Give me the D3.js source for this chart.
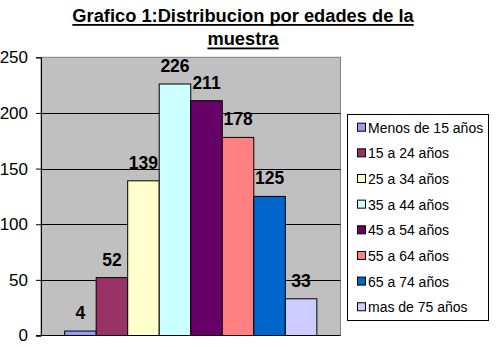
<!DOCTYPE html>
<html>
<head>
<meta charset="utf-8">
<script src="https://cdn.jsdelivr.net/npm/d3@7"></script>
<style>
  html, body { margin: 0; padding: 0; background: #fff; }
  svg { display: block; font-family: Arial, "Liberation Sans", sans-serif; }
</style>
</head>
<body>
<svg id="chart" width="496" height="347"></svg>
<script>
// Age groups of the sample and how many people fall in each
const categories = ["Menos de 15 años", "15 a 24 años", "25 a 34 años", "35 a 44 años",
                    "45 a 54 años", "55 a 64 años", "65 a 74 años", "mas de 75 años"];
const counts = [4, 52, 139, 226, 211, 178, 125, 33];
const colors = ["#9999FF", "#993366", "#FFFFCC", "#CCFFFF", "#660066", "#FF8080", "#0066CC", "#CCCCFF"];
const yTicks = [0, 50, 100, 150, 200, 250];
const titleLines = ["Grafico 1:Distribucion por edades de la", "muestra"];

const svg = d3.select("#chart");
const plot = { left: 41, top: 57.3, right: 340.5, bottom: 335.5 };

const y = d3.scaleLinear().domain([0, 250]).range([plot.bottom, plot.top]);
const x = d3.scaleBand().domain(categories)
  .range([plot.left, plot.right]).paddingInner(0).paddingOuter(0.75);

// Title, bold and underlined, two centred lines
const title = svg.append("g").attr("font-weight", "bold").attr("font-size", 18.3)
  .attr("text-anchor", "middle");
titleLines.forEach((t, i) => {
  const txt = title.append("text").attr("x", 243).attr("y", 21.5 + i * 23.5).text(t);
  const w = txt.node().getComputedTextLength();
  title.append("rect").attr("x", 243 - w / 2).attr("y", 24 + i * 23.5)
    .attr("width", w).attr("height", 1.8).attr("fill", "#000");
});

// Plot background
svg.append("rect")
  .attr("x", plot.left).attr("y", plot.top)
  .attr("width", plot.right - plot.left).attr("height", plot.bottom - plot.top)
  .attr("fill", "#C0C0C0").attr("stroke", "#808080").attr("stroke-width", 1);

// Horizontal gridlines
svg.append("g").selectAll("line")
  .data(yTicks.filter(d => d > 0 && d < 250))
  .join("line")
  .attr("x1", plot.left).attr("x2", plot.right)
  .attr("y1", d => Math.round(y(d)) + 0.5).attr("y2", d => Math.round(y(d)) + 0.5)
  .attr("stroke", "#000").attr("stroke-width", 1);

// Bars
svg.append("g").selectAll("rect")
  .data(counts)
  .join("rect")
  .attr("x", (d, i) => x(categories[i]))
  .attr("y", d => y(d))
  .attr("width", x.bandwidth())
  .attr("height", d => y(0) - y(d))
  .attr("fill", (d, i) => colors[i])
  .attr("stroke", "#000").attr("stroke-width", 1);

// Value labels above bars
svg.append("g").attr("font-weight", "bold").attr("font-size", 17.5)
  .attr("text-anchor", "middle")
  .selectAll("text")
  .data(counts)
  .join("text")
  .attr("x", (d, i) => x(categories[i]) + x.bandwidth() / 2)
  .attr("y", d => y(d) - 12)
  .text(d => d);

// Left axis
const yAxis = d3.axisLeft(y).tickValues(yTicks).tickSize(5).tickPadding(8);
const ya = svg.append("g").attr("transform", `translate(${plot.left},0)`).call(yAxis);
ya.select(".domain").attr("stroke", "#000");
ya.selectAll(".tick line").attr("stroke", "#000");
ya.selectAll(".tick text").attr("font-size", 17).attr("fill", "#000")
  .attr("font-family", "Arial, 'Liberation Sans', sans-serif");

// Bottom axis line
svg.append("line")
  .attr("x1", plot.left - 5).attr("x2", plot.right)
  .attr("y1", plot.bottom).attr("y2", plot.bottom)
  .attr("stroke", "#000").attr("stroke-width", 1);

// Legend
const legend = svg.append("g");
legend.append("rect")
  .attr("x", 347.5).attr("y", 114.5).attr("width", 141).attr("height", 206)
  .attr("fill", "#fff").attr("stroke", "#000").attr("stroke-width", 1);
const items = legend.selectAll("g.item")
  .data(categories)
  .join("g").attr("class", "item")
  .attr("transform", (d, i) => `translate(357,${132.7 + i * 25.65})`);
items.append("rect")
  .attr("x", 0.5).attr("y", -9.5).attr("width", 8).attr("height", 8)
  .attr("fill", (d, i) => colors[i]).attr("stroke", "#000").attr("stroke-width", 1);
items.append("text")
  .attr("x", 11).attr("y", 0)
  .attr("font-size", 14).attr("fill", "#000")
  .text(d => d);
</script>
</body>
</html>
